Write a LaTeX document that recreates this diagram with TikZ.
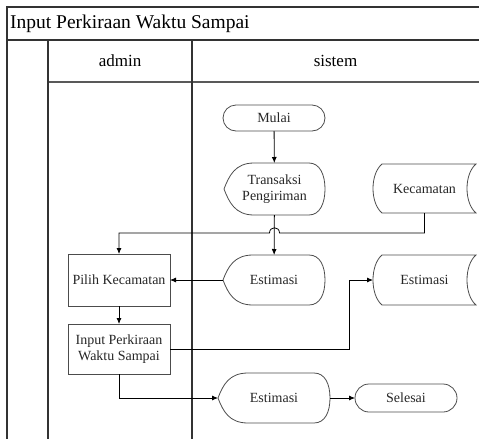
\documentclass[tikz,border=0pt]{standalone}
\usepackage{fontspec}
\setmainfont{Liberation Serif}
\usetikzlibrary{arrows.meta,calc}

\tikzset{
  frame/.style={draw=black!80, line width=1.2pt},
  shapeline/.style={draw=black!70, line width=0.8pt},
  txt/.style={font=\fontsize{14}{16.5}\selectfont, text=black!85, align=center,
              inner sep=0pt, outer sep=0pt},
  procbox/.style={txt, shapeline, minimum width=102pt, minimum height=#1},
  termbox/.style={txt, shapeline, rounded corners=#1, minimum width=102pt, minimum height=2*#1},
  plainbox/.style n args={2}{txt, minimum width=#1, minimum height=#2},
  conn/.style={draw=black, line width=0.8pt},
  arr/.style={conn, -{Latex[length=6pt,width=5pt]}},
}

% display symbol: pointed left side, rounded right side
\newcommand\dispoutline[1]{%
  \draw[shapeline] (#1.west)
    .. controls ($(#1.west)+(5,-13)$) and ($(#1.north west)+(11,0)$) .. ($(#1.north west)+(30,0)$)
    -- ($(#1.north east)+(-16,0)$)
    .. controls ($(#1.north east)+(-5,0)$) and ($(#1.east)+(0,-14)$) .. (#1.east)
    .. controls ($(#1.east)+(0,14)$) and ($(#1.south east)+(-5,0)$) .. ($(#1.south east)+(-16,0)$)
    -- ($(#1.south west)+(30,0)$)
    .. controls ($(#1.south west)+(11,0)$) and ($(#1.west)+(5,13)$) .. cycle;}

% stored data symbol: convex left side, concave right side
\newcommand\storeoutline[1]{%
  \draw[shapeline] ($(#1.north west)+(9,0)$) -- (#1.north east)
    .. controls ($(#1.north east)+(-12,10)$) and ($(#1.south east)+(-12,-10)$) .. (#1.south east)
    -- ($(#1.south west)+(9,0)$)
    .. controls ($(#1.south west)+(-3,-10)$) and ($(#1.north west)+(-3,10)$) .. cycle;}

\begin{document}
\begin{tikzpicture}[x=1pt,y=-1pt]
  \useasboundingbox (0,0) rectangle (479,439);

  % swimlane frame
  \draw[frame] (479,7) -- (7,7) -- (7,439);
  \draw[frame] (7,40) -- (479,40);
  \draw[frame, draw=black!65] (48,82) -- (479,82);
  \draw[frame] (48,40) -- (48,439);
  \draw[frame] (192,40) -- (192,439);

  \node[anchor=west, inner sep=0pt, font=\fontsize{19.5}{22}\selectfont] (title) at (10,23.5) {Input Perkiraan Waktu Sampai};
  \node[font=\fontsize{17}{20}\selectfont] (laneA) at (120,61) {admin};
  \node[font=\fontsize{17}{20}\selectfont] (laneB) at (335.5,61) {sistem};

  % flow elements
  \node[termbox=13pt] (mulai) at (274,118) {Mulai};
  \node[plainbox={101pt}{52pt}] (trans) at (274.5,189) {Transaksi\\Pengiriman};
  \node[plainbox={103pt}{49pt}] (kec) at (424.5,188.5) {Kecamatan};
  \node[plainbox={102pt}{50pt}] (est1) at (274,280) {Estimasi};
  \node[procbox=52pt] (pilih) at (119,280) {Pilih Kecamatan};
  \node[plainbox={103pt}{50pt}] (est2) at (424.5,280) {Estimasi};
  \node[procbox=50pt] (input) at (119,349) {Input Perkiraan\\Waktu Sampai};
  \node[plainbox={112pt}{50pt}] (est3) at (274,398) {Estimasi};
  \node[termbox=14pt] (selesai) at (406,398) {Selesai};

  \dispoutline{trans}
  \dispoutline{est1}
  \dispoutline{est3}
  \storeoutline{kec}
  \storeoutline{est2}

  % connectors
  \coordinate (hop) at (trans.south |- 0,233);
  \coordinate (kbend) at (kec.south |- 0,233);
  \coordinate (pbend) at (pilih.north |- 0,233);
  \path (est2.west) ++(-24,0) coordinate (elbow);

  \draw[arr] (mulai) -- (trans);
  \draw[arr] (trans) -- (est1);
  \draw[arr] (kec.south) -- (kbend) -- ($(hop)+(5,0)$)
     .. controls ($(hop)+(5,-7)$) and ($(hop)+(-5,-7)$) .. ($(hop)+(-5,0)$)
     -- (pbend) -- (pilih.north);
  \draw[arr] (est1.west) -- (pilih.east);
  \draw[arr] (pilih) -- (input);
  \draw[arr] (input.east) -| (elbow) -- (est2.west);
  \draw[arr] (input.south) |- (est3.west);
  \draw[arr] (est3.east) -- (selesai.west);
\end{tikzpicture}
\end{document}
